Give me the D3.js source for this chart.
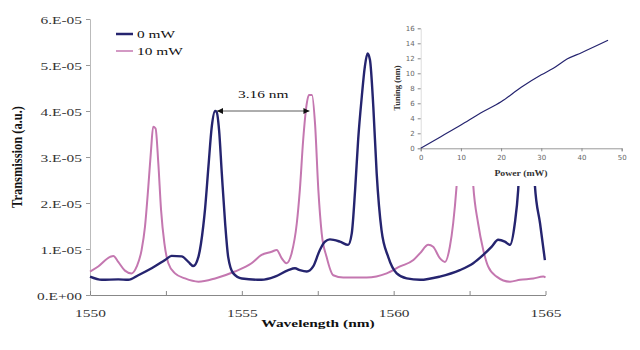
<!DOCTYPE html>
<html>
<head>
<meta charset="utf-8">
<script src="https://d3js.org/d3.v7.min.js"></script>
<style>
  body { margin: 0; background: #fff; }
  text { font-family: "Liberation Serif", "Times New Roman", serif; }
</style>
</head>
<body>
<script>
// main spectrum, wavelength in nm, transmission in units of 1e-5 a.u.
const blueWl = [1550.00, 1550.39, 1550.93, 1551.26, 1551.59, 1552.03, 1552.47, 1552.69, 1553.02, 1553.24,
  1553.40, 1553.57, 1553.73, 1553.79, 1553.90, 1554.01, 1554.12, 1554.17, 1554.25, 1554.34,
  1554.45, 1554.55, 1554.72, 1555.00, 1555.65, 1556.09, 1556.53, 1556.75, 1556.91, 1557.14,
  1557.35, 1557.57, 1557.74, 1557.90, 1558.23, 1558.50, 1558.62, 1558.73, 1558.83, 1558.95,
  1559.05, 1559.14, 1559.22, 1559.33, 1559.44, 1559.60, 1559.82, 1560.10, 1560.43, 1560.87,
  1561.52, 1562.18, 1562.62, 1562.95, 1563.23, 1563.44, 1563.66, 1563.83, 1563.99, 1564.10,
  1564.19, 1564.29, 1564.39, 1564.49, 1564.59, 1564.65, 1564.82, 1564.98]
const blueT = [0.40, 0.33, 0.34, 0.33, 0.43, 0.58, 0.76, 0.85, 0.84, 0.72,
  0.63, 0.83, 1.50, 1.88, 2.79, 3.66, 4.00, 3.98, 3.59, 2.65,
  1.56, 0.83, 0.47, 0.36, 0.33, 0.40, 0.54, 0.58, 0.54, 0.51,
  0.62, 0.98, 1.16, 1.21, 1.16, 1.09, 1.34, 2.28, 3.37, 4.31,
  4.96, 5.25, 5.11, 4.09, 2.65, 1.41, 0.83, 0.47, 0.36, 0.33,
  0.40, 0.54, 0.69, 0.87, 1.05, 1.20, 1.16, 1.09, 1.56, 2.28,
  3.50, 4.80, 5.40, 4.60, 3.30, 2.39, 1.56, 0.76]

const pinkWl = [1550.00, 1550.27, 1550.66, 1550.77, 1550.93, 1551.15, 1551.37, 1551.54, 1551.70, 1551.81,
  1551.92, 1552.01, 1552.08, 1552.16, 1552.25, 1552.34, 1552.45, 1552.58, 1552.80, 1553.13,
  1553.57, 1554.12, 1554.77, 1555.32, 1555.65, 1555.98, 1556.15, 1556.31, 1556.47, 1556.64,
  1556.81, 1556.91, 1557.02, 1557.14, 1557.21, 1557.31, 1557.41, 1557.52, 1557.63, 1557.79,
  1558.01, 1558.34, 1559.11, 1559.77, 1560.21, 1560.65, 1560.87, 1561.14, 1561.30, 1561.52,
  1561.69, 1561.85, 1561.96, 1562.07, 1562.18, 1562.28, 1562.38, 1562.47, 1562.54, 1562.62,
  1562.78, 1562.95, 1563.11, 1563.39, 1563.83, 1564.16, 1564.60, 1564.93, 1565.00]
const pinkT = [0.51, 0.62, 0.83, 0.85, 0.72, 0.53, 0.47, 0.62, 0.98, 1.48,
  2.35, 3.15, 3.66, 3.62, 2.86, 1.85, 1.12, 0.69, 0.47, 0.36,
  0.29, 0.36, 0.51, 0.69, 0.87, 0.94, 0.98, 0.80, 0.69, 0.91,
  1.56, 2.28, 3.37, 4.17, 4.35, 4.35, 3.73, 2.28, 1.34, 0.83,
  0.43, 0.38, 0.38, 0.47, 0.62, 0.76, 0.91, 1.09, 1.05, 0.80,
  0.72, 1.05, 1.56, 2.35, 3.50, 4.40, 4.60, 4.30, 3.30, 2.39,
  1.56, 0.98, 0.62, 0.40, 0.29, 0.33, 0.36, 0.40, 0.38]

const seriesNames = ["0 mW", "10 mW"]
const xTicks = [1550, 1552.5, 1555, 1557.5, 1560, 1562.5, 1565]
const xTickLabels = ["1550", "", "1555", "", "1560", "", "1565"]
const yTicks = [0, 1, 2, 3, 4, 5, 6]
const yTickLabels = ["0.E+00", "1.E-05", "2.E-05", "3.E-05", "4.E-05", "5.E-05", "6.E-05"]

// shift annotation
const shiftFrom = 1554.15
const shiftTo = 1557.26
const shiftLevel = 4.0
const shiftLabel = "3.16 nm"

// inset: tuning vs heater power
const power = [0, 5, 10, 14.8, 20, 25, 30, 33, 36.4, 40, 46.6]
const tuning = [0, 1.55, 3.1, 4.67, 6.2, 8.13, 9.8, 10.67, 11.9, 12.75, 14.4]
const insetXTicks = [0, 10, 20, 30, 40, 50]
const insetYTicks = [0, 2, 4, 6, 8, 10, 12, 14, 16]

const W = 640, H = 350
const SX = 1.4   // horizontal stretch of the original lettering
const blue = "#25246f", pink = "#c477b0"

const svg = d3.select("body").append("svg").attr("width", W).attr("height", H)

const x = d3.scaleLinear().domain([1550, 1565]).range([90, 545.5])
const y = d3.scaleLinear().domain([0, 6]).range([295, 19])

// stretched text helper
function stext(g, tx, ty, str, opts = {}) {
  return g.append("text")
    .attr("transform", `translate(${tx},${ty}) scale(${opts.sx ?? SX},1)`)
    .attr("text-anchor", opts.anchor ?? "start")
    .attr("font-size", opts.size ?? 11)
    .attr("font-weight", opts.weight ?? "normal")
    .attr("fill", opts.fill ?? "#222")
    .text(str)
}

// y axis
const yAxis = svg.append("g").attr("transform", "translate(90,0)")
  .call(d3.axisLeft(y).tickValues(yTicks).tickSize(4).tickFormat((d, i) => yTickLabels[i]))
yAxis.select(".domain").attr("stroke", "#bbb")
yAxis.selectAll(".tick line").attr("stroke", "#999")
yAxis.selectAll(".tick text")
  .attr("x", null).attr("dy", null)
  .attr("transform", `translate(-8,4) scale(${SX},1)`)
  .attr("font-size", 11).attr("fill", "#333")

// x axis
const xAxis = svg.append("g").attr("transform", "translate(0,295)")
  .call(d3.axisBottom(x).tickValues(xTicks).tickSizeInner(-4).tickSizeOuter(0)
    .tickFormat((d, i) => xTickLabels[i]))
xAxis.select(".domain").attr("stroke", "#888")
xAxis.selectAll(".tick line").attr("stroke", "#888")
xAxis.selectAll(".tick text")
  .attr("y", null).attr("dy", null)
  .attr("transform", `translate(0,22) scale(${SX},1)`)
  .attr("font-size", 11).attr("fill", "#333")

// axis titles
stext(svg, 318, 327, "Wavelength (nm)", { anchor: "middle", weight: "bold", fill: "#111" })
svg.append("text")
  .attr("transform", "translate(22,157) rotate(-90) scale(1,1.25)")
  .attr("text-anchor", "middle").attr("font-size", 12.5).attr("font-weight", "bold")
  .attr("fill", "#111").text("Transmission (a.u.)")

// curves
const line = d3.line().x(d => x(d[0])).y(d => y(d[1])).curve(d3.curveMonotoneX)
svg.append("path").datum(pinkWl.map((w, i) => [w, pinkT[i]]))
  .attr("d", line).attr("fill", "none").attr("stroke", pink).attr("stroke-width", 2)
svg.append("path").datum(blueWl.map((w, i) => [w, blueT[i]]))
  .attr("d", line).attr("fill", "none").attr("stroke", blue).attr("stroke-width", 2.4)

// shift arrow
const defs = svg.append("defs")
defs.append("marker").attr("id", "ah").attr("viewBox", "0 0 10 10")
  .attr("refX", 10).attr("refY", 5).attr("markerWidth", 7).attr("markerHeight", 6)
  .attr("orient", "auto-start-reverse").attr("markerUnits", "userSpaceOnUse")
  .append("path").attr("d", "M0,0L10,5L0,10z").attr("fill", "#111")
svg.append("line")
  .attr("x1", x(shiftFrom) + 1).attr("x2", x(shiftTo) - 1)
  .attr("y1", y(shiftLevel)).attr("y2", y(shiftLevel))
  .attr("stroke", "#333").attr("stroke-width", 0.8)
  .attr("marker-start", "url(#ah)").attr("marker-end", "url(#ah)")
stext(svg, (x(shiftFrom) + x(shiftTo)) / 2, y(shiftLevel) - 13, shiftLabel, { anchor: "middle", fill: "#111" })

// legend
const legend = svg.append("g")
;[[blue, 2.5], [pink, 1.5]].forEach(([c, sw], i) => {
  const ly = 34 + i * 17
  legend.append("line").attr("x1", 116).attr("x2", 133).attr("y1", ly).attr("y2", ly)
    .attr("stroke", c).attr("stroke-width", sw)
  stext(legend, 137, ly + 4, seriesNames[i], { fill: "#111" })
})

// inset
const inset = svg.append("g")
inset.append("rect").attr("x", 388).attr("y", 0).attr("width", W - 388).attr("height", 186).attr("fill", "#fff")
const ix = d3.scaleLinear().domain([0, 50]).range([420.7, 621.7])
const iy = d3.scaleLinear().domain([0, 16]).range([148.3, 28.3])

const iyAxis = inset.append("g").attr("transform", "translate(420.7,0)")
  .call(d3.axisLeft(iy).tickValues(insetYTicks).tickSize(3).tickPadding(3))
iyAxis.select(".domain").attr("stroke", "#ddd")
iyAxis.selectAll(".tick line").attr("stroke", "#888")
iyAxis.selectAll(".tick text").style("font-family", "'DejaVu Sans', sans-serif")
  .attr("font-size", 7).attr("fill", "#666")

const ixAxis = inset.append("g").attr("transform", "translate(0,148.3)")
  .call(d3.axisBottom(ix).tickValues(insetXTicks).tickSize(3).tickPadding(4))
ixAxis.select(".domain").attr("stroke", "#999")
ixAxis.selectAll(".tick line").attr("stroke", "#888")
ixAxis.selectAll(".tick text").style("font-family", "'DejaVu Sans', sans-serif")
  .attr("font-size", 7).attr("fill", "#666")

inset.append("path").datum(power.map((p, i) => [p, tuning[i]]))
  .attr("d", d3.line().x(d => ix(d[0])).y(d => iy(d[1])).curve(d3.curveMonotoneX))
  .attr("fill", "none").attr("stroke", blue).attr("stroke-width", 1.2)

stext(inset, 521, 176, "Power (mW)", { anchor: "middle", weight: "bold", size: 8.5, sx: 1.15, fill: "#333" })
inset.append("text")
  .attr("transform", "translate(400,88) rotate(-90)")
  .attr("text-anchor", "middle").attr("font-size", 8.5).attr("font-weight", "bold")
  .attr("fill", "#333").text("Tuning (nm)")
</script>
</body>
</html>
